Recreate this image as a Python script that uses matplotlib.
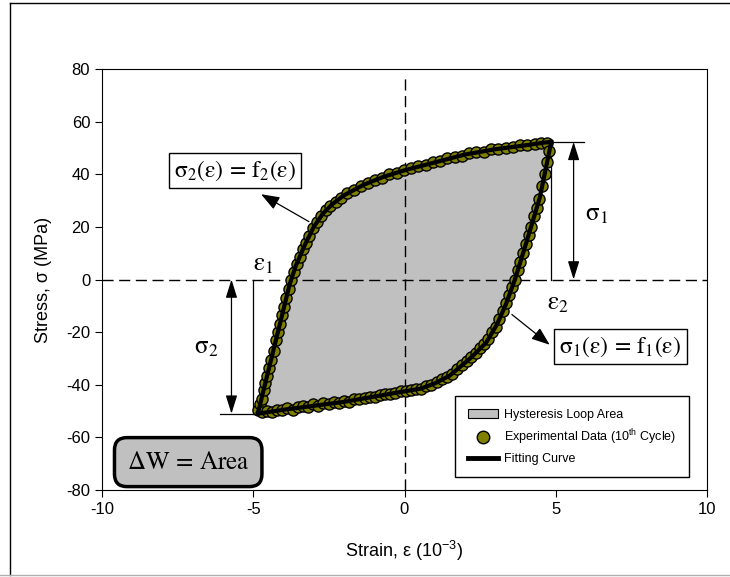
import matplotlib
matplotlib.use('agg')
import matplotlib.pyplot as plt
import matplotlib.patches as patches
from matplotlib.lines import Line2D

plt.rcParams['font.family'] = ['Liberation Sans', 'DejaVu Sans']
plt.rcParams['mathtext.fontset'] = 'custom'
plt.rcParams['mathtext.rm'] = 'Liberation Sans'
plt.rcParams['mathtext.it'] = 'Liberation Sans'
plt.rcParams['axes.unicode_minus'] = False

# fitting curve, upper branch sigma_2 = f_2(eps)
fit_up_x = [-4.85, -4.55, -4.25, -3.95, -3.8, -3.6, -3.3, -3.0, -2.7, -2.4,
            -2.0, -1.35, -0.7, 0.0, 1.0, 2.0, 3.0, 4.0, 4.6, 4.85]
fit_up_y = [-51, -37, -23, -9, -2, 5, 13, 20, 25, 28.5,
            32, 36, 39, 41.5, 44.5, 47.5, 49.5, 51, 52, 52.3]

# fitting curve, lower branch sigma_1 = f_1(eps)
fit_lo_x = [-4.85, -4.0, -3.0, -2.0, -1.0, 0.0, 0.53, 1.0, 1.5, 2.17, 2.7,
            3.06, 3.35, 3.65, 4.04, 4.47, 4.74, 4.85]
fit_lo_y = [-51, -49.5, -48, -46.5, -44.5, -42.5, -41.5, -39.5, -36.5, -30, -24,
            -17, -9.5, 0, 14.5, 31, 46, 52.3]

# experimental data (10th cycle)
exp_up_x = [-4.83, -4.78, -4.72, -4.66, -4.60, -4.54, -4.47, -4.40, -4.33, -4.26,
            -4.19, -4.12, -4.05, -3.98, -3.91, -3.83, -3.75, -3.66, -3.57, -3.47,
            -3.37, -3.26, -3.15, -3.03, -2.90, -2.76, -2.61, -2.45, -2.28, -2.10,
            -1.90, -1.68, -1.45, -1.22, -0.98, -0.74, -0.50, -0.26, -0.02, 0.22,
            0.46, 0.70, 0.94, 1.18, 1.42, 1.66, 1.90, 2.14, 2.38, 2.62,
            2.86, 3.10, 3.34, 3.58, 3.82, 4.06, 4.30, 4.52, 4.72]
exp_up_y = [-49.5, -47.5, -45.5, -42.0, -39.5, -36.5, -33.5, -30.5, -27.0, -23.0,
            -20.0, -17.0, -13.5, -10.5, -7.0, -3.5, 0.0, 3.0, 6.0, 8.5,
            11.5, 14.0, 16.5, 19.5, 22.0, 24.0, 26.5, 28.0, 29.5, 31.0,
            33.0, 34.0, 35.5, 36.5, 38.0, 38.5, 40.0, 40.5, 41.5, 42.5,
            43.0, 43.5, 44.5, 45.0, 46.0, 46.5, 47.0, 48.0, 48.5, 48.5,
            49.5, 49.5, 50.0, 50.5, 51.0, 51.0, 51.5, 52.0, 52.0]
exp_lo_x = [-4.72, -4.55, -4.38, -4.21, -4.04, -3.87, -3.70, -3.53, -3.36, -3.19,
            -3.02, -2.85, -2.68, -2.51, -2.34, -2.17, -2.00, -1.83, -1.66, -1.49,
            -1.32, -1.15, -0.98, -0.81, -0.64, -0.47, -0.30, -0.13, 0.04, 0.21,
            0.38, 0.55, 0.72, 0.89, 1.06, 1.23, 1.40, 1.57, 1.74, 1.90,
            2.06, 2.21, 2.36, 2.50, 2.64, 2.77, 2.90, 3.02, 3.14, 3.25,
            3.36, 3.46, 3.56, 3.65, 3.74, 3.83, 3.92, 4.01, 4.10, 4.19,
            4.28, 4.37, 4.46, 4.55, 4.63, 4.71, 4.79]
exp_lo_y = [-50.5, -50.0, -50.5, -49.5, -49.5, -49.0, -49.5, -48.5, -48.0, -48.5,
            -47.5, -48.0, -47.0, -47.5, -46.5, -47.0, -46.0, -46.5, -45.5, -45.5,
            -45.0, -44.5, -44.5, -44.0, -43.5, -43.5, -43.0, -42.5, -42.5, -42.0,
            -41.5, -41.5, -40.5, -40.0, -39.0, -38.0, -37.0, -36.0, -34.0, -32.5,
            -31.0, -29.5, -28.0, -26.0, -24.5, -22.5, -20.0, -18.0, -15.0, -12.0,
            -9.0, -6.0, -3.0, 0.0, 3.5, 6.5, 10.0, 13.5, 17.0, 20.0,
            24.0, 27.0, 30.5, 35.5, 40.0, 44.5, 49.0]

x_ticks = [-10, -5, 0, 5, 10]
y_ticks = [-80, -60, -40, -20, 0, 20, 40, 60, 80]

olive = '#808000'
grey = '#c0c0c0'

fig = plt.figure(figsize=(7.3, 5.77), dpi=100)
ax = fig.add_axes([102/730, 1 - 490/577, 605/730, 421/577])

# loop area
ax.fill(fit_up_x + fit_lo_x[::-1], fit_up_y + fit_lo_y[::-1],
        fc=grey, ec='none', zorder=1)

# zero lines
ax.axhline(0, color='black', lw=1, ls=(0, (8, 4)), zorder=2)
ax.axvline(0, ymax=0.985, color='black', lw=1, ls=(0, (8, 4)), zorder=2)

ax.plot(exp_up_x, exp_up_y, 'o', ms=8, mfc=olive, mec='black', mew=1, zorder=3)
ax.plot(exp_lo_x, exp_lo_y, 'o', ms=8, mfc=olive, mec='black', mew=1, zorder=3)
ax.plot(fit_up_x, fit_up_y, color='black', lw=3, zorder=4)
ax.plot(fit_lo_x, fit_lo_y, color='black', lw=3, zorder=4)

ax.set_xlim(-10, 10)
ax.set_ylim(-80, 80)
ax.set_xticks(x_ticks)
ax.set_yticks(y_ticks)
ax.tick_params(direction='out', length=5, labelsize=12, top=False, right=False)
ax.set_xlabel('Strain, ε (10$^{-3}$)', fontsize=13, labelpad=16)
ax.set_ylabel('Stress, σ (MPa)', fontsize=13, labelpad=10)

# dimension lines
thin = dict(color='black', lw=0.9, zorder=2)
ax.plot([-5.0, -5.0], [0, -51], **thin)
ax.plot([-6.1, -4.85], [-51, -51], **thin)
ax.plot([4.84, 4.84], [52.3, 0], **thin)
ax.plot([4.84, 5.95], [52.3, 52.3], **thin)

dbl = dict(arrowstyle='<|-|>,head_length=0.8,head_width=0.25', color='black',
           lw=0.9, shrinkA=0, shrinkB=0, mutation_scale=14)
ax.annotate('', xy=(-5.72, 0), xytext=(-5.72, -51), arrowprops=dbl)
ax.annotate('', xy=(5.59, 52.3), xytext=(5.59, 0), arrowprops=dbl)

serif = dict(math_fontfamily='stix', fontsize=18)
ax.text(-6.55, -25.5, r'$\mathrm{\sigma_2}$', ha='center', va='center', **serif)
ax.text(6.35, 24.8, r'$\mathrm{\sigma_1}$', ha='center', va='center', **serif)
ax.text(-4.67, 6.0, r'$\mathrm{\varepsilon_1}$', ha='center', va='center', **serif)
ax.text(5.07, -9.0, r'$\mathrm{\varepsilon_2}$', ha='center', va='center', **serif)

box = dict(boxstyle='square,pad=0.22', fc='white', ec='black', lw=1)
ptr = dict(arrowstyle='-|>,head_length=0.8,head_width=0.3', color='black',
           lw=0.9, shrinkA=0, shrinkB=0, mutation_scale=14)
ax.text(-5.6, 41.5, r'$\mathrm{\sigma_2(\varepsilon)}\,=\,\mathrm{f_2(\varepsilon)}$',
        ha='center', va='center', bbox=box, math_fontfamily='stix', fontsize=17)
ax.annotate('', xy=(-4.74, 32.4), xytext=(-3.16, 22), arrowprops=ptr)
ax.text(7.14, -25.5, r'$\mathrm{\sigma_1(\varepsilon)}\,=\,\mathrm{f_1(\varepsilon)}$',
        ha='center', va='center', bbox=box, math_fontfamily='stix', fontsize=17)
ax.annotate('', xy=(4.8, -24.8), xytext=(3.55, -13.3), arrowprops=ptr, zorder=5)

ax.text(-7.15, -69.4, r'$\mathrm{\Delta W}\,=\,\mathrm{Area}$', ha='center',
        va='center', math_fontfamily='stix', fontsize=18,
        bbox=dict(boxstyle='round,pad=0.5,rounding_size=0.5', fc=grey,
                  ec='black', lw=2.5))

handles = [patches.Patch(fc=grey, ec='black', lw=0.8),
           Line2D([], [], ls='none', marker='o', ms=9, mfc=olive, mec='black'),
           Line2D([], [], color='black', lw=3.5)]
labels = ['Hysteresis Loop Area',
          'Experimental Data (10$^{\\mathrm{th}}$ Cycle)',
          'Fitting Curve']
leg = ax.legend(handles, labels, loc='lower right', bbox_to_anchor=(0.98, 0.015),
                fontsize=9, fancybox=False, edgecolor='black', framealpha=1,
                borderpad=1.0, handlelength=2.4, handletextpad=0.5,
                labelspacing=0.5)
leg.get_frame().set_linewidth(1)

# frame round the whole picture
fig.add_artist(Line2D([10/730, 10/730], [2/577, 1 - 3/577], color='black', lw=1))
fig.add_artist(Line2D([10/730, 1], [1 - 3/577, 1 - 3/577], color='black', lw=1))
fig.add_artist(Line2D([0, 1], [2/577, 2/577], color='#b0b0b0', lw=1))

fig.savefig('out.png', dpi=100)
